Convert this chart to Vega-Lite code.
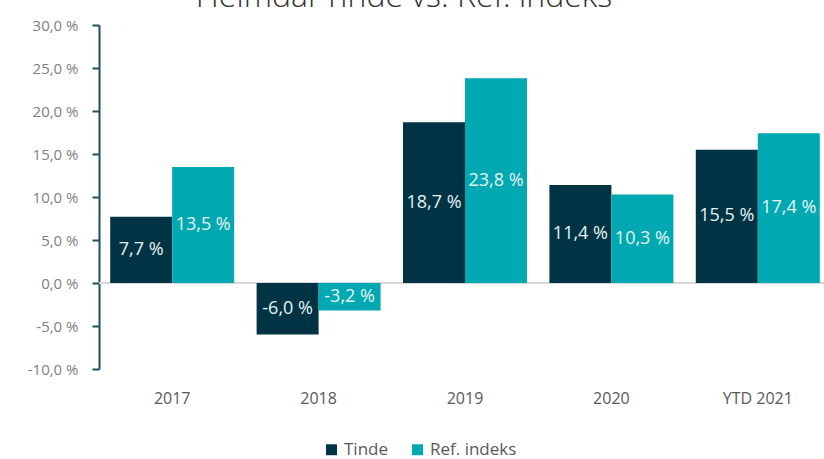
{
  "$schema": "https://vega.github.io/schema/vega-lite/v6.json",
  "autosize": "none",
  "width": 732,
  "height": 344,
  "padding": {"left": 99, "top": 25, "right": 0, "bottom": 90},
  "background": "white",
  "title": {
    "text": "Heimdal Tinde vs. Ref. indeks",
    "font": "Open Sans",
    "fontWeight": 300,
    "fontSize": 32,
    "color": "#333333",
    "anchor": "middle",
    "frame": "group",
    "baseline": "alphabetic",
    "offset": 3,
    "dy": 24,
    "dx": -61
  },
  "config": {
    "view": {"stroke": null},
    "locale": {
      "number": {
        "decimal": ",",
        "thousands": " ",
        "grouping": [3],
        "currency": ["", " kr"],
        "percent": " %",
        "minus": "-"
      }
    },
    "font": "Open Sans"
  },
  "data": {
    "values": [
      {"year": "2017", "series": "Tinde", "value": 0.077},
      {"year": "2017", "series": "Ref. indeks", "value": 0.135},
      {"year": "2018", "series": "Tinde", "value": -0.060},
      {"year": "2018", "series": "Ref. indeks", "value": -0.032},
      {"year": "2019", "series": "Tinde", "value": 0.187},
      {"year": "2019", "series": "Ref. indeks", "value": 0.238},
      {"year": "2020", "series": "Tinde", "value": 0.114},
      {"year": "2020", "series": "Ref. indeks", "value": 0.103},
      {"year": "YTD 2021", "series": "Tinde", "value": 0.155},
      {"year": "YTD 2021", "series": "Ref. indeks", "value": 0.174}
    ]
  },
  "encoding": {
    "x": {
      "field": "year",
      "type": "nominal",
      "sort": null,
      "scale": {"paddingInner": 0.153, "paddingOuter": 0.0765},
      "axis": {
        "title": null,
        "labelAngle": 0,
        "domain": false,
        "ticks": false,
        "labelPadding": 21,
        "labelFont": "Open Sans",
        "labelFontSize": 16,
        "labelColor": "#595959",
        "grid": false
      }
    },
    "xOffset": {
      "field": "series",
      "type": "nominal",
      "sort": ["Tinde", "Ref. indeks"],
      "scale": {"paddingInner": 0, "paddingOuter": 0}
    }
  },
  "layer": [
    {
      "mark": {"type": "rule", "color": "#d9d9d9", "strokeWidth": 1.5},
      "encoding": {
        "y": {"datum": 0, "type": "quantitative"},
        "x": null,
        "xOffset": null
      }
    },
    {
      "mark": {"type": "bar"},
      "encoding": {
        "y": {
          "field": "value",
          "type": "quantitative",
          "scale": {"domain": [-0.1, 0.3], "nice": false, "zero": false},
          "axis": {
            "title": null,
            "values": [-0.1, -0.05, 0, 0.05, 0.1, 0.15, 0.2, 0.25, 0.3],
            "format": ".1%",
            "grid": false,
            "domainColor": "#1f4e5c",
            "domainWidth": 2,
            "tickColor": "#1f4e5c",
            "tickWidth": 2,
            "tickSize": 7,
            "labelPadding": 14,
            "labelFont": "Open Sans",
            "labelFontSize": 15,
            "labelColor": "#7f7f7f"
          }
        },
        "color": {
          "field": "series",
          "type": "nominal",
          "sort": ["Tinde", "Ref. indeks"],
          "scale": {"domain": ["Tinde", "Ref. indeks"], "range": ["#003445", "#00a9b1"]},
          "legend": {
            "title": null,
            "orient": "none",
            "direction": "horizontal",
            "legendX": 224,
            "legendY": 416,
            "symbolType": "square",
            "symbolSize": 120,
            "symbolStrokeWidth": 0,
            "labelFont": "Open Sans",
            "labelFontSize": 17,
            "labelColor": "#595959",
            "labelOffset": 4,
            "columnPadding": 20
          }
        }
      }
    },
    {
      "transform": [{"calculate": "datum.value / 2", "as": "mid"}],
      "mark": {"type": "text", "baseline": "middle", "align": "center", "font": "Open Sans", "fontSize": 18, "color": "#e6f2f2"},
      "encoding": {
        "y": {"field": "mid", "type": "quantitative"},
        "text": {"field": "value", "type": "quantitative", "format": ".1%"}
      }
    }
  ]
}
